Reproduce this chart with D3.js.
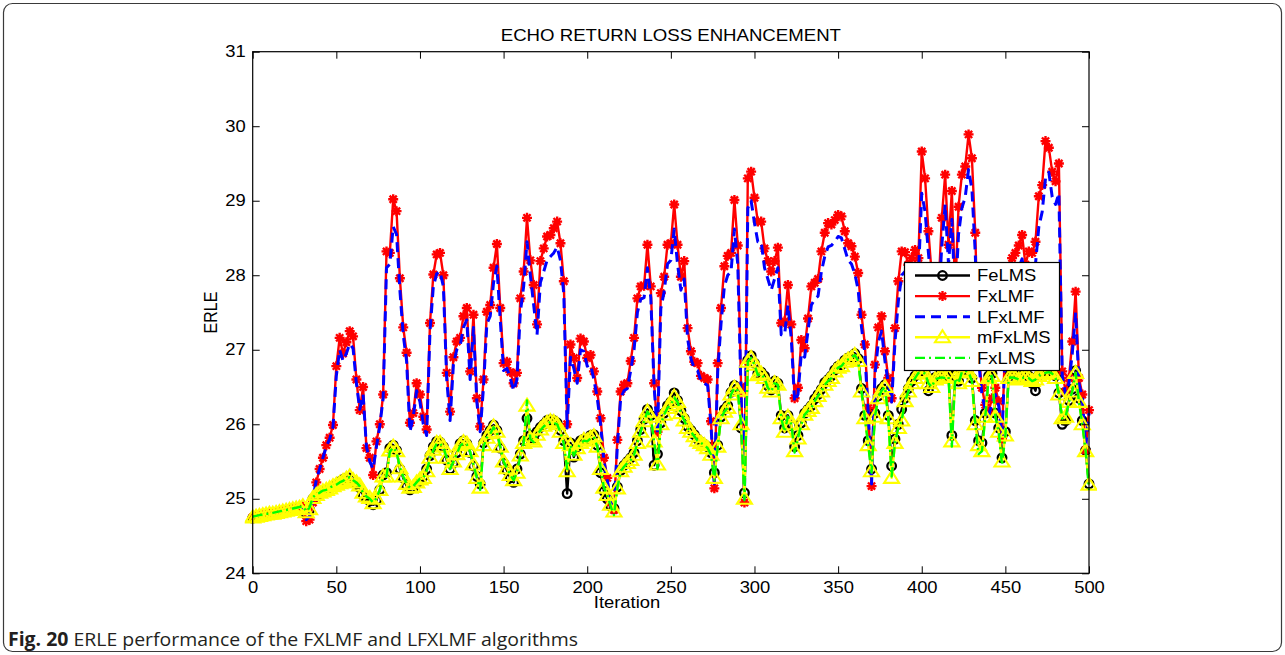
<!DOCTYPE html>
<html>
<head>
<meta charset="utf-8">
<script src="https://cdn.jsdelivr.net/npm/d3@7/dist/d3.min.js"></script>
<style>
  html, body { margin: 0; padding: 0; background: #fff; }
  svg { display: block; }
</style>
</head>
<body>
<svg id="chart" width="1285" height="655"></svg>
<script>
// ---------------- DATA ----------------
const iterations = d3.range(0, 501, 2);
const xTicks = [0, 50, 100, 150, 200, 250, 300, 350, 400, 450, 500];
const yTicks = [24, 25, 26, 27, 28, 29, 30, 31];
const seriesNames = ["FeLMS", "FxLMF", "LFxLMF", "mFxLMS", "FxLMS"];

const FeLMS = [
24.74,24.75,24.76,24.77,24.78,24.79,24.79,24.80,24.81,24.82,
24.83,24.84,24.85,24.86,24.87,24.89,24.80,24.85,25.00,25.04,
25.07,25.10,25.12,25.14,25.17,25.20,25.23,25.26,25.28,25.28,
25.25,25.20,25.15,25.05,25.00,24.97,24.92,24.98,25.12,25.32,
25.35,25.68,25.72,25.65,25.40,25.28,25.17,25.12,25.15,25.20,
25.25,25.30,25.40,25.58,25.70,25.77,25.76,25.70,25.52,25.40,
25.48,25.62,25.74,25.78,25.74,25.62,25.44,25.30,25.20,25.75,
25.85,25.92,25.99,25.92,25.68,25.48,25.38,25.28,25.22,25.40,
25.60,25.78,26.08,25.85,25.80,25.90,25.96,26.00,26.05,26.06,
26.05,26.02,25.92,25.78,25.07,25.75,25.56,25.70,25.78,25.80,
25.80,25.85,25.86,25.72,25.35,25.10,25.00,24.90,24.87,25.16,
25.38,25.45,25.50,25.55,25.62,25.78,25.93,26.07,26.20,26.12,
25.45,25.60,26.02,26.15,26.25,26.30,26.42,26.32,26.18,26.08,
25.97,25.92,25.86,25.80,25.76,25.73,25.70,25.62,25.35,25.72,
26.10,26.20,26.25,26.43,26.52,26.48,25.95,25.08,26.86,26.92,
26.82,26.68,26.70,26.65,26.52,26.46,26.58,26.55,26.12,25.95,
26.12,25.98,25.70,25.85,26.02,26.15,26.20,26.25,26.34,26.40,
26.47,26.56,26.60,26.65,26.73,26.78,26.80,26.86,26.89,26.91,
26.95,26.88,26.48,26.12,25.78,25.40,26.15,26.38,26.48,26.53,
26.12,25.44,25.80,26.00,26.20,26.35,26.48,26.58,26.65,26.72,
26.73,26.70,26.45,26.55,26.63,26.65,26.66,26.65,26.67,25.85,
26.65,26.58,26.72,26.75,26.72,26.62,26.05,25.78,25.75,26.15,
26.65,26.68,26.15,25.95,25.55,25.90,26.65,26.66,26.65,26.63,
26.65,26.66,26.65,26.55,26.45,26.66,26.70,26.72,26.73,26.70,
26.65,26.42,26.00,26.05,26.32,26.47,26.72,26.35,26.05,25.65,
25.20];

const FxLMF = [
24.75,24.76,24.77,24.78,24.79,24.80,24.80,24.81,24.82,24.83,
24.84,24.85,24.86,24.87,24.88,24.89,24.70,24.72,24.95,25.22,
25.40,25.55,25.72,25.82,25.99,26.78,27.16,26.95,27.10,27.25,
27.18,26.60,26.19,26.50,25.68,25.55,25.32,25.77,26.00,26.40,
28.32,28.30,29.02,28.86,27.96,27.30,26.96,26.02,26.15,26.55,
26.40,26.10,25.93,27.36,28.01,28.28,28.30,28.00,26.69,26.17,
26.90,27.11,27.16,27.45,27.56,26.71,27.47,26.35,25.97,26.60,
27.51,27.60,28.10,28.42,27.56,26.82,26.84,26.70,26.55,26.69,
27.69,28.05,28.77,28.20,27.87,27.34,28.19,28.36,28.52,28.54,
28.63,28.72,28.43,27.92,26.00,27.07,26.89,26.62,27.15,27.11,
26.89,26.93,26.71,26.44,26.08,25.55,25.28,24.95,24.85,25.79,
26.44,26.53,26.55,26.85,27.16,27.69,27.85,27.86,28.41,27.85,
26.55,25.90,27.76,27.98,28.41,28.43,28.95,28.41,27.98,28.19,
27.29,26.98,26.84,26.82,26.65,26.62,26.60,26.04,25.14,26.82,
27.56,28.12,28.26,28.30,29.01,28.40,26.50,24.95,29.30,29.39,
29.04,28.72,28.72,28.36,28.19,28.05,28.19,28.37,27.36,27.38,
27.87,27.34,26.35,26.49,27.13,27.02,27.42,27.85,27.90,27.95,
28.32,28.57,28.70,28.68,28.74,28.81,28.79,28.59,28.43,28.39,
28.25,28.03,27.47,27.07,26.22,25.17,26.80,27.30,27.45,26.98,
26.62,26.35,27.29,27.92,28.32,28.31,28.14,28.23,28.34,28.23,
29.66,29.30,28.59,28.00,27.42,27.80,28.77,29.35,28.41,29.13,
27.78,28.92,29.35,29.46,29.89,29.57,28.57,26.93,26.49,26.26,
26.17,26.35,26.49,26.31,25.81,27.20,28.01,28.23,28.30,28.40,
28.54,28.14,28.32,28.30,28.45,29.06,29.21,29.80,29.71,29.39,
29.26,29.50,26.71,26.44,26.62,27.11,27.78,26.62,26.40,25.65,
26.19];

const LFxLMF = [
24.75,24.76,24.77,24.78,24.79,24.80,24.80,24.81,24.82,24.83,
24.84,24.85,24.86,24.87,24.88,24.89,24.72,24.76,25.00,25.25,
25.40,25.55,25.70,25.80,25.96,26.65,27.00,26.85,26.95,27.08,
27.02,26.55,26.20,26.40,25.70,25.50,25.40,25.70,25.98,26.35,
28.10,28.15,28.65,28.55,27.80,27.20,26.85,25.90,26.10,26.45,
26.30,26.00,25.85,27.25,27.85,28.02,28.05,27.85,26.60,26.05,
26.80,27.00,27.05,27.30,27.40,26.60,27.30,26.30,25.90,26.50,
27.35,27.45,27.90,28.12,27.40,26.72,26.75,26.62,26.45,26.60,
27.50,27.85,28.45,28.00,27.60,27.20,27.90,28.05,28.20,28.25,
28.30,28.38,28.20,27.75,25.95,26.90,26.75,26.55,27.00,26.98,
26.78,26.80,26.60,26.35,26.00,25.50,25.25,24.95,24.87,25.70,
26.35,26.45,26.48,26.72,27.00,27.50,27.68,27.70,28.10,27.70,
26.50,25.88,27.55,27.78,28.15,28.20,28.62,28.15,27.80,27.95,
27.15,26.88,26.75,26.72,26.58,26.55,26.52,25.98,25.20,26.70,
27.35,27.85,28.00,28.05,28.62,28.15,26.40,25.00,28.90,29.00,
28.70,28.45,28.45,28.10,27.95,27.80,27.95,28.10,27.20,27.20,
27.60,27.15,26.30,26.40,26.95,26.90,27.25,27.60,27.68,27.72,
28.05,28.25,28.38,28.40,28.45,28.52,28.50,28.35,28.20,28.15,
28.02,27.80,27.30,26.95,26.15,25.20,26.65,27.10,27.25,26.85,
26.55,26.30,27.10,27.65,28.00,28.05,27.90,27.95,28.05,27.98,
29.10,28.85,28.30,27.80,27.30,27.60,28.40,28.95,28.15,28.75,
27.65,28.55,28.90,29.05,29.42,29.15,28.30,26.85,26.40,26.20,
26.12,26.28,26.40,26.25,25.85,27.05,27.75,27.95,28.00,28.10,
28.22,27.90,28.05,28.05,28.15,28.65,28.85,29.30,29.38,29.05,
28.95,29.10,26.65,26.40,26.55,26.95,27.50,26.55,26.35,25.70,
26.15];

const mFxLMS = [
24.75,24.76,24.77,24.78,24.79,24.80,24.80,24.81,24.82,24.83,
24.84,24.85,24.86,24.87,24.88,24.90,24.82,24.86,25.01,25.05,
25.08,25.10,25.12,25.14,25.17,25.19,25.21,25.24,25.27,25.30,
25.25,25.22,25.18,25.08,25.03,25.01,24.94,25.00,25.12,25.30,
25.30,25.65,25.70,25.64,25.41,25.30,25.20,25.15,25.16,25.22,
25.26,25.28,25.37,25.55,25.66,25.75,25.75,25.70,25.55,25.40,
25.50,25.60,25.72,25.76,25.74,25.64,25.46,25.28,25.15,25.72,
25.82,25.88,25.97,25.90,25.70,25.50,25.41,25.32,25.25,25.35,
25.58,25.75,26.25,25.80,25.77,25.86,25.93,25.98,26.02,26.04,
26.03,26.00,25.90,25.75,25.37,25.72,25.59,25.68,25.75,25.79,
25.78,25.82,25.84,25.70,25.40,25.15,25.05,24.92,24.83,25.14,
25.37,25.43,25.48,25.52,25.59,25.75,25.90,26.04,26.17,26.10,
25.77,25.46,26.00,26.13,26.22,26.26,26.37,26.30,26.15,26.05,
25.95,25.90,25.84,25.78,25.75,25.72,25.68,25.59,25.28,25.70,
26.08,26.17,26.22,26.40,26.49,26.45,26.00,25.00,26.84,26.89,
26.80,26.66,26.68,26.62,26.49,26.44,26.55,26.53,26.08,25.90,
26.10,26.00,25.64,25.81,26.00,26.13,26.18,26.22,26.31,26.38,
26.44,26.53,26.58,26.62,26.71,26.76,26.78,26.84,26.87,26.89,
26.93,26.85,26.44,26.08,25.72,25.37,26.10,26.35,26.45,26.50,
26.08,25.28,25.75,25.95,26.05,26.31,26.44,26.55,26.62,26.69,
26.70,26.68,26.55,26.50,26.60,26.62,26.63,26.62,26.64,25.77,
26.62,26.55,26.70,26.72,26.70,26.58,26.00,25.72,25.64,26.10,
26.62,26.65,26.10,25.90,25.50,25.85,26.62,26.63,26.62,26.60,
26.62,26.63,26.62,26.58,26.60,26.65,26.68,26.69,26.70,26.68,
26.62,26.40,26.08,26.10,26.30,26.44,26.69,26.30,26.00,25.64,
25.19];

const FxLMS = [
24.76,24.77,24.78,24.79,24.80,24.80,24.81,24.82,24.83,24.84,
24.85,24.86,24.87,24.88,24.89,24.90,24.83,24.88,25.02,25.06,
25.08,25.11,25.12,25.15,25.17,25.19,25.22,25.24,25.27,25.29,
25.25,25.22,25.17,25.08,25.03,25.00,24.95,25.01,25.12,25.28,
25.30,25.63,25.69,25.63,25.42,25.30,25.20,25.15,25.17,25.22,
25.27,25.28,25.37,25.54,25.65,25.74,25.74,25.69,25.55,25.40,
25.50,25.60,25.71,25.75,25.73,25.63,25.46,25.28,25.12,25.70,
25.82,25.87,25.96,25.89,25.70,25.50,25.41,25.32,25.25,25.35,
25.57,25.74,26.32,25.80,25.76,25.85,25.92,25.97,26.01,26.03,
26.02,26.00,25.89,25.74,25.40,25.72,25.58,25.67,25.74,25.78,
25.77,25.81,25.83,25.70,25.42,25.15,25.05,24.90,24.78,25.14,
25.37,25.43,25.48,25.52,25.59,25.75,25.90,26.04,26.17,26.10,
25.77,25.40,26.00,26.13,26.22,26.26,26.36,26.30,26.15,26.05,
25.95,25.90,25.84,25.78,25.75,25.72,25.68,25.59,25.25,25.70,
26.08,26.17,26.22,26.40,26.49,26.45,26.00,24.98,26.84,26.89,
26.80,26.66,26.68,26.62,26.49,26.44,26.55,26.53,26.08,25.90,
26.10,26.00,25.62,25.81,26.00,26.13,26.18,26.22,26.31,26.38,
26.44,26.53,26.58,26.62,26.71,26.76,26.78,26.84,26.87,26.89,
26.93,26.85,26.44,26.08,25.72,25.35,26.10,26.35,26.45,26.50,
26.08,25.30,25.75,25.95,26.05,26.31,26.44,26.55,26.62,26.69,
26.70,26.68,26.55,26.50,26.60,26.62,26.63,26.62,26.64,25.70,
26.62,26.55,26.70,26.72,26.70,26.58,26.00,25.60,25.64,26.10,
26.62,26.65,26.10,25.90,25.45,25.85,26.62,26.63,26.62,26.60,
26.62,26.63,26.62,26.58,26.60,26.65,26.68,26.69,26.70,26.68,
26.62,26.40,26.08,26.10,26.30,26.44,26.69,26.30,26.00,25.64,
25.12];

// ---------------- DRAW ----------------
const svg = d3.select("#chart");
const FONT = "'Liberation Sans', Arial, Helvetica, sans-serif";
const SX = 1.15;  // horizontal stretch of the original raster

const plot = { left: 252.7, right: 1089, top: 51.7, bottom: 573.3 };
const x = d3.scaleLinear().domain([0, 500]).range([plot.left, plot.right]);
const y = d3.scaleLinear().domain([24, 31]).range([plot.bottom, plot.top]);

// outer frame
svg.append("rect")
  .attr("x", 3.5).attr("y", 3.5).attr("width", 1278).attr("height", 648)
  .attr("rx", 9).attr("fill", "none").attr("stroke", "#3a3a3a").attr("stroke-width", 1.2);

const styles = {
  FeLMS:  { color: "#000000", width: 2.4, dash: null,        marker: "circle" },
  FxLMF:  { color: "#ff0000", width: 2.4, dash: null,        marker: "star" },
  LFxLMF: { color: "#0000ff", width: 3,   dash: "10,6",      marker: null },
  mFxLMS: { color: "#ffff00", width: 2.4, dash: null,        marker: "triangle" },
  FxLMS:  { color: "#00ff00", width: 2.4, dash: "10,4,2,4",  marker: null }
};
const dataBy = { FeLMS, FxLMF, LFxLMF, mFxLMS, FxLMS };

svg.append("defs").append("clipPath").attr("id", "clip")
  .append("rect").attr("x", plot.left - 8).attr("y", plot.top)
  .attr("width", plot.right - plot.left + 16).attr("height", plot.bottom - plot.top);

const line = d3.line().x(d => x(d[0])).y(d => y(d[1]));

function markerPath(type) {
  if (type === "star") {
    const s = 5, d = s * 0.72;
    return `M${-s},0H${s}M0,${-s}V${s}M${-d},${-d}L${d},${d}M${-d},${d}L${d},${-d}`;
  }
  if (type === "triangle") {
    return "M0,-7L7.5,5L-7.5,5Z";
  }
  return null;
}

function drawMarker(g, type, color) {
  if (type === "circle") {
    g.append("circle").attr("r", 4.3).attr("fill", "none")
      .attr("stroke", color).attr("stroke-width", 2.3);
  } else if (type) {
    g.append("path").attr("d", markerPath(type)).attr("fill", "none")
      .attr("stroke", color).attr("stroke-width", type === "star" ? 2.4 : 2.1)
      .attr("stroke-linejoin", "miter");
  }
}

const plotG = svg.append("g").attr("clip-path", "url(#clip)");
seriesNames.forEach(name => {
  const st = styles[name];
  const pts = iterations.map((it, i) => [it, dataBy[name][i]]);
  const g = plotG.append("g").attr("class", "series-" + name);
  g.append("path").datum(pts).attr("d", line)
    .attr("fill", "none").attr("stroke", st.color).attr("stroke-width", st.width)
    .attr("stroke-dasharray", st.dash).attr("stroke-linejoin", "round");
  if (st.marker) {
    g.selectAll("g.m").data(pts).join("g").attr("class", "m")
      .attr("transform", d => `translate(${x(d[0])},${y(d[1])})`)
      .each(function () { drawMarker(d3.select(this), st.marker, st.color); });
  }
});

// axes (MATLAB style, inward ticks, box)
const T = 7;
function styleAxis(g, labels) {
  g.select(".domain").remove();
  g.selectAll(".tick line").attr("stroke", "#000").attr("stroke-width", 1);
  if (!labels) g.selectAll(".tick text").remove();
  else g.selectAll(".tick text").attr("fill", "#000")
        .style("font-family", FONT).style("font-size", "16px")
        .attr("transform", `scale(${SX},1)`);
}
svg.append("g").attr("transform", `translate(0,${plot.bottom})`)
  .call(d3.axisBottom(x).tickValues(xTicks).tickSize(-T).tickPadding(8).tickFormat(d3.format("d")))
  .call(g => styleAxis(g, true));
svg.append("g").attr("transform", `translate(0,${plot.top})`)
  .call(d3.axisTop(x).tickValues(xTicks).tickSize(-T))
  .call(g => styleAxis(g, false));
svg.append("g").attr("transform", `translate(${plot.left},0)`)
  .call(d3.axisLeft(y).tickValues(yTicks).tickSize(-T).tickPadding(6).tickFormat(d3.format("d")))
  .call(g => styleAxis(g, true));
svg.append("g").attr("transform", `translate(${plot.right},0)`)
  .call(d3.axisRight(y).tickValues(yTicks).tickSize(-T))
  .call(g => styleAxis(g, false));
svg.append("rect")
  .attr("x", plot.left).attr("y", plot.top)
  .attr("width", plot.right - plot.left).attr("height", plot.bottom - plot.top)
  .attr("fill", "none").attr("stroke", "#000").attr("stroke-width", 1.2);

// texts
function label(txt, tx, ty, opts = {}) {
  return svg.append("text")
    .attr("transform", `translate(${tx},${ty}) ${opts.rotate ? "rotate(-90) scale(1," + SX + ")" : "scale(" + SX + ",1)"}`)
    .attr("text-anchor", "middle")
    .style("font-family", FONT).style("font-size", (opts.size || 16) + "px")
    .attr("fill", "#000").text(txt);
}
label("ECHO RETURN LOSS ENHANCEMENT", (plot.left + plot.right) / 2, 40.5, { size: 16.2 });
label("Iteration", 627, 608);
label("ERLE", 216.5, (plot.top + plot.bottom) / 2, { rotate: true });

// legend
const lg = svg.append("g").attr("transform", "translate(904,262)");
lg.append("rect").attr("x", 0.5).attr("y", 0.5).attr("width", 155).attr("height", 108)
  .attr("fill", "#fff").attr("stroke", "#000").attr("stroke-width", 1.2);
seriesNames.forEach((name, i) => {
  const st = styles[name];
  const cy = 13.5 + i * 20.6;
  lg.append("line").attr("x1", 11).attr("x2", 66).attr("y1", cy).attr("y2", cy)
    .attr("stroke", st.color).attr("stroke-width", st.width).attr("stroke-dasharray", st.dash);
  const mg = lg.append("g").attr("transform", `translate(38.5,${cy})`);
  drawMarker(mg, st.marker, st.color);
  lg.append("text").attr("transform", `translate(73,${cy + 5.8}) scale(${SX},1)`)
    .style("font-family", FONT).style("font-size", "16px").attr("fill", "#000").text(name);
});

// caption
const cap = svg.append("text").attr("x", 8).attr("y", 646)
  .attr("textLength", 570).attr("lengthAdjust", "spacingAndGlyphs")
  .style("font-family", "'Open Sans', 'Noto Sans', sans-serif").style("font-size", "19px")
  .attr("fill", "#231f20");
cap.append("tspan").style("font-weight", "bold").text("Fig. 20");
cap.append("tspan").text(" ERLE performance of the FXLMF and LFXLMF algorithms");
</script>
</body>
</html>
